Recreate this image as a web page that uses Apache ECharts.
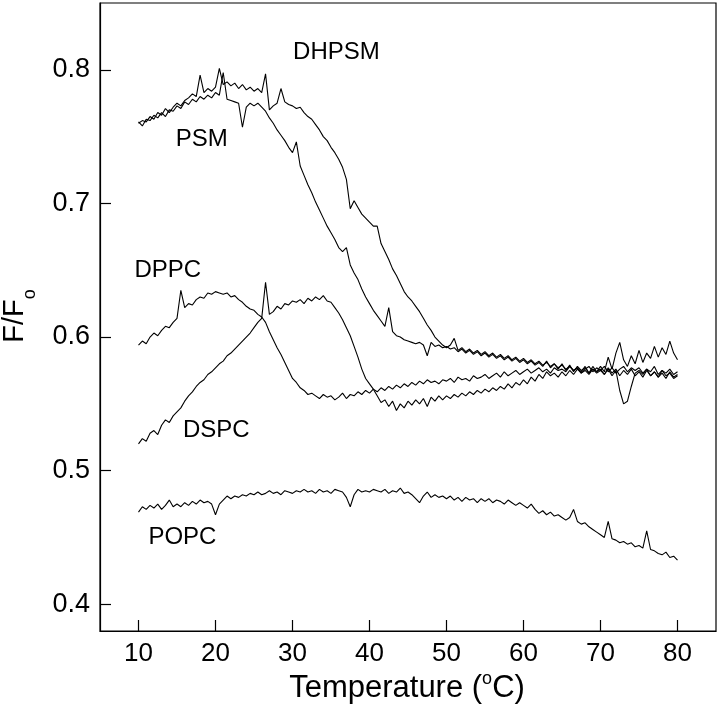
<!DOCTYPE html>
<html>
<head>
<meta charset="utf-8">
<script src="https://cdn.jsdelivr.net/npm/echarts@6/dist/echarts.min.js"></script>
<style>
html,body{margin:0;padding:0;background:#fff;}
#chart{width:720px;height:717px;}
</style>
</head>
<body>
<div id="chart"></div>
<script>
// Sampling grid: temperatures from 10 to 80 °C every 0.5 °C
const T_START = 10;
const T_STEP = 0.5;

const xTicks = [10, 20, 30, 40, 50, 60, 70, 80];
const yTicks = [0.4, 0.5, 0.6, 0.7, 0.8];

const PSM = [
 0.761,0.758,0.763,0.762,0.766,0.764,0.768,0.765,0.770,0.769,
 0.773,0.771,0.776,0.774,0.778,0.776,0.780,0.778,0.781,0.779,
 0.783,0.781,0.798,0.778,0.777,0.776,0.775,0.757,0.772,0.775,
 0.773,0.775,0.772,0.769,0.764,0.760,0.755,0.751,0.747,0.742,
 0.738,0.746,0.728,0.721,0.714,0.708,0.701,0.695,0.689,0.683,
 0.678,0.673,0.667,0.664,0.667,0.654,0.648,0.643,0.636,0.630,
 0.625,0.620,0.616,0.612,0.608,0.622,0.604,0.601,0.600,0.598,
 0.597,0.596,0.595,0.596,0.594,0.586,0.596,0.593,0.594,0.592,
 0.593,0.591,0.592,0.589,0.591,0.588,0.590,0.587,0.589,0.586,
 0.588,0.585,0.587,0.584,0.586,0.583,0.585,0.582,0.584,0.581,
 0.583,0.580,0.582,0.579,0.581,0.578,0.582,0.577,0.580,0.576,
 0.580,0.575,0.579,0.574,0.578,0.575,0.577,0.573,0.578,0.574,
 0.576,0.572,0.577,0.573,0.576,0.571,0.575,0.572,0.576,0.571,
 0.574,0.570,0.575,0.571,0.574,0.570,0.573,0.569,0.574,0.570,
 0.572];

const DHPSM = [
 0.760,0.762,0.761,0.765,0.763,0.768,0.766,0.771,0.768,0.772,
 0.775,0.773,0.777,0.779,0.782,0.780,0.796,0.783,0.786,0.784,
 0.787,0.801,0.789,0.791,0.788,0.790,0.786,0.789,0.785,0.787,
 0.784,0.786,0.783,0.797,0.770,0.773,0.775,0.786,0.776,0.774,
 0.773,0.771,0.772,0.768,0.765,0.763,0.759,0.755,0.750,0.747,
 0.742,0.738,0.733,0.727,0.718,0.696,0.702,0.697,0.692,0.689,
 0.686,0.683,0.683,0.670,0.664,0.658,0.651,0.646,0.640,0.634,
 0.630,0.627,0.623,0.619,0.614,0.609,0.605,0.600,0.597,0.594,
 0.592,0.594,0.599,0.590,0.592,0.589,0.591,0.588,0.590,0.587,
 0.589,0.586,0.588,0.585,0.587,0.584,0.586,0.583,0.585,0.582,
 0.584,0.581,0.583,0.580,0.582,0.579,0.581,0.578,0.580,0.577,
 0.579,0.576,0.578,0.575,0.577,0.574,0.578,0.573,0.576,0.574,
 0.578,0.574,0.585,0.576,0.588,0.596,0.583,0.578,0.586,0.580,
 0.590,0.581,0.588,0.584,0.593,0.585,0.592,0.587,0.597,0.588,
 0.583];

const DPPC = [
 0.594,0.597,0.595,0.600,0.603,0.601,0.605,0.608,0.607,0.611,
 0.614,0.635,0.622,0.625,0.624,0.628,0.630,0.629,0.633,0.632,
 0.634,0.633,0.632,0.633,0.630,0.631,0.628,0.626,0.623,0.621,
 0.620,0.617,0.615,0.611,0.604,0.598,0.592,0.587,0.581,0.575,
 0.569,0.566,0.562,0.560,0.557,0.558,0.556,0.554,0.557,0.555,
 0.556,0.553,0.555,0.558,0.554,0.557,0.556,0.559,0.557,0.560,
 0.558,0.561,0.559,0.562,0.560,0.563,0.561,0.564,0.562,0.565,
 0.563,0.566,0.564,0.567,0.565,0.568,0.566,0.567,0.565,0.568,
 0.567,0.569,0.566,0.570,0.568,0.569,0.567,0.571,0.569,0.570,
 0.572,0.569,0.571,0.573,0.570,0.574,0.571,0.573,0.575,0.572,
 0.574,0.576,0.573,0.575,0.577,0.574,0.576,0.573,0.577,0.575,
 0.576,0.574,0.578,0.575,0.577,0.573,0.576,0.578,0.574,0.577,
 0.575,0.578,0.574,0.577,0.573,0.576,0.578,0.574,0.577,0.575,
 0.577,0.573,0.576,0.574,0.578,0.572,0.575,0.573,0.576,0.572,
 0.574];

const DSPC = [
 0.520,0.524,0.522,0.528,0.530,0.527,0.534,0.538,0.536,0.541,
 0.544,0.547,0.552,0.556,0.559,0.563,0.566,0.568,0.572,0.574,
 0.577,0.580,0.582,0.586,0.588,0.591,0.594,0.597,0.600,0.603,
 0.607,0.611,0.614,0.641,0.617,0.619,0.623,0.621,0.625,0.624,
 0.627,0.626,0.628,0.625,0.629,0.627,0.630,0.628,0.631,0.627,
 0.626,0.622,0.618,0.613,0.607,0.601,0.593,0.585,0.576,0.569,
 0.565,0.561,0.556,0.551,0.553,0.548,0.552,0.545,0.550,0.547,
 0.552,0.549,0.553,0.550,0.554,0.548,0.555,0.552,0.556,0.553,
 0.556,0.554,0.557,0.555,0.558,0.556,0.559,0.557,0.560,0.558,
 0.561,0.559,0.562,0.560,0.563,0.561,0.565,0.562,0.566,0.564,
 0.568,0.565,0.570,0.567,0.572,0.569,0.574,0.571,0.573,0.570,
 0.574,0.571,0.575,0.572,0.576,0.573,0.575,0.572,0.576,0.573,
 0.575,0.572,0.576,0.571,0.575,0.560,0.550,0.552,0.563,0.573,
 0.575,0.572,0.576,0.571,0.574,0.570,0.575,0.571,0.573,0.569,
 0.571];

const POPC = [
 0.469,0.473,0.471,0.474,0.472,0.475,0.471,0.474,0.478,0.473,
 0.475,0.473,0.476,0.474,0.477,0.475,0.478,0.476,0.477,0.475,
 0.467,0.475,0.478,0.481,0.479,0.481,0.480,0.482,0.481,0.483,
 0.482,0.484,0.482,0.483,0.485,0.483,0.484,0.482,0.485,0.484,
 0.483,0.485,0.484,0.486,0.484,0.485,0.483,0.486,0.484,0.485,
 0.483,0.486,0.485,0.484,0.480,0.473,0.482,0.486,0.484,0.485,
 0.484,0.486,0.485,0.484,0.486,0.483,0.485,0.484,0.487,0.483,
 0.484,0.482,0.479,0.476,0.481,0.484,0.480,0.482,0.480,0.481,
 0.479,0.481,0.478,0.480,0.477,0.480,0.478,0.479,0.476,0.479,
 0.477,0.479,0.476,0.478,0.477,0.475,0.478,0.476,0.474,0.476,
 0.474,0.472,0.475,0.471,0.468,0.470,0.467,0.469,0.466,0.467,
 0.465,0.463,0.465,0.471,0.462,0.460,0.461,0.458,0.456,0.454,
 0.452,0.450,0.462,0.449,0.448,0.446,0.447,0.445,0.446,0.443,
 0.444,0.442,0.455,0.441,0.440,0.438,0.437,0.439,0.435,0.436,
 0.433];

// Curve annotations (name, temperature, F/Fo)
const labelNames = ['DHPSM', 'PSM', 'DPPC', 'DSPC', 'POPC'];
const labelX = [35.7, 18.2, 13.8, 20.1, 15.7];
const labelY = [0.813, 0.748, 0.650, 0.530, 0.450];

const FONT = '"Liberation Sans", Arial, Helvetica, sans-serif';

function toPairs(arr) {
  return arr.map((v, i) => [T_START + i * T_STEP, v]);
}

const curves = { PSM, DHPSM, DPPC, DSPC, POPC };
const lineSeries = Object.keys(curves).map(name => ({
  name: name,
  type: 'line',
  data: toPairs(curves[name]),
  showSymbol: false,
  symbol: 'none',
  lineStyle: { color: '#000', width: 1.1 },
  z: 2
}));

const labelSeries = {
  type: 'scatter',
  data: labelNames.map((n, i) => ({ name: n, value: [labelX[i], labelY[i]] })),
  symbolSize: 2,
  itemStyle: { color: 'rgba(0,0,0,0)', opacity: 1 },
  label: {
    show: true,
    position: 'inside',
    formatter: '{b}',
    color: '#000',
    opacity: 1,
    textBorderWidth: 0,
    fontSize: 24,
    fontFamily: FONT
  },
  emphasis: { disabled: true },
  silent: true,
  z: 3
};

const chart = echarts.init(document.getElementById('chart'), null, { renderer: 'canvas' });
chart.setOption({
  animation: false,
  backgroundColor: '#fff',
  grid: { left: 100, top: 3, right: 4, bottom: 86, show: true, borderColor: '#000', borderWidth: 1.2, backgroundColor: 'transparent' },
  xAxis: {
    type: 'value', min: 5, max: 85,
    axisLine: { show: true, onZero: false, lineStyle: { color: '#000', width: 1.2 } },
    axisTick: { show: true, inside: true, length: 11, customValues: xTicks, lineStyle: { color: '#000', width: 1.2 } },
    axisLabel: { customValues: xTicks, fontSize: 26, color: '#000', margin: 10, fontFamily: FONT },
    splitLine: { show: false }
  },
  yAxis: {
    type: 'value', min: 0.38, max: 0.85,
    axisLine: { show: true, onZero: false, lineStyle: { color: '#000', width: 1.2 } },
    axisTick: { show: true, inside: true, length: 11, customValues: yTicks, lineStyle: { color: '#000', width: 1.2 } },
    axisLabel: { customValues: yTicks, fontSize: 27, color: '#000', margin: 10, fontFamily: FONT, formatter: v => v.toFixed(1) },
    splitLine: { show: false }
  },
  graphic: [
    {
      type: 'text', x: 407, y: 688,
      style: {
        text: 'Temperature ({sup|o}C)',
        fontSize: 31, lineHeight: 36, fontFamily: FONT, fill: '#000',
        align: 'center', verticalAlign: 'middle',
        rich: { sup: { fontSize: 18, lineHeight: 18, verticalAlign: 'top', fontFamily: FONT, fill: '#000' } }
      }
    },
    {
      type: 'text', x: 15, y: 316, rotation: Math.PI / 2,
      style: {
        text: 'F/F{sub|o}',
        fontSize: 29, lineHeight: 48, fontFamily: FONT, fill: '#000',
        align: 'center', verticalAlign: 'middle',
        rich: { sub: { fontSize: 18, lineHeight: 18, verticalAlign: 'bottom', fontFamily: FONT, fill: '#000' } }
      }
    }
  ],
  series: lineSeries.concat([labelSeries])
});
</script>
</body>
</html>
